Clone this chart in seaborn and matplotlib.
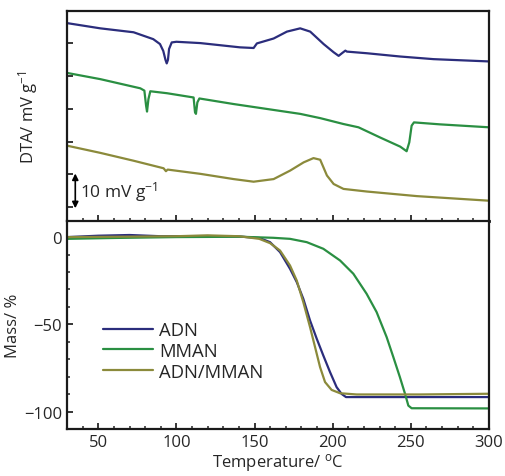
import numpy as np
import pandas as pd
import seaborn as sns
import matplotlib.pyplot as plt
from matplotlib.ticker import MultipleLocator, NullFormatter

# DTA curves (temperature in C, signal in mV/g with arbitrary offsets)
adn_dta_t = [30, 51.3, 72.6, 85.2, 89.5, 91.6, 93.0, 93.8, 94.6, 95.3, 97, 100, 115.3, 140.7, 149.4,
             151.5, 162.2, 170.7, 179.2, 185.6, 194.2, 200.6, 203.8, 205.9, 208.1, 209.1,
             221.9, 243.2, 264.5, 300]
adn_dta_v = [56.2, 54.6, 53.4, 51.3, 49.8, 47.7, 45.0, 43.9, 45.0, 48.3, 50.3, 50.5, 50.1, 48.8, 48.6,
             50.0, 51.5, 53.6, 54.6, 53.6, 49.8, 47.3, 46.2, 47.0, 47.8, 47.5,
             47.0, 46.0, 45.2, 44.5]

mman_dta_t = [30, 51.3, 76.9, 79.5, 80.6, 81.2, 82.1, 83.3, 94, 111, 111.9, 112.5, 113.4,
              114.7, 136.6, 157.9, 179.2, 192, 206.9, 216.5, 230.3, 243.2, 247.3, 249,
              250.5, 252, 268.6, 300]
mman_dta_v = [41.0, 39.1, 36.3, 35.6, 31.0, 29.2, 33.0, 35.4, 34.8, 33.5, 29.0, 28.5, 32.0,
              33.2, 31.5, 30.0, 28.5, 27.2, 25.4, 24.4, 21.3, 18.5, 17.1, 19.8,
              24.9, 25.9, 25.3, 24.4]

mix_dta_t = [30, 51.3, 72.6, 91.8, 93.3, 94.4, 115.3, 136.6, 149.4, 162.2, 172.8, 181.4,
             187.7, 192, 196.3, 200.6, 206.9, 221.9, 253.9, 300]
mix_dta_v = [18.8, 16.6, 14.2, 11.9, 11.0, 11.5, 10.2, 8.6, 7.8, 8.6, 11.2, 13.7,
             15.0, 14.5, 9.7, 7.1, 5.6, 4.8, 3.4, 2.0]

# TG curves (mass change in %)
adn_tg_t = [30, 50, 70, 90, 120, 140.7, 153, 159.9, 166.3, 172.7, 177, 181.2, 185.5, 189.8,
            194, 198.3, 202.5, 205.7, 208.5, 250, 300]
adn_tg_v = [0, 0.8, 1.2, 0.5, 0.6, 0.3, -0.5, -2.9, -8.6, -18.2, -25.8, -35.4, -47.8, -58.3,
            -67.9, -77.4, -86, -89.9, -91.7, -91.7, -91.7]

mman_tg_t = [30, 60, 100, 140.7, 162, 172.7, 183.4, 194, 204.7, 213.2, 221.7, 228.1, 234.5,
             238.8, 243, 246.3, 248.4, 250.5, 300]
mman_tg_v = [-1, -0.5, 0, 0.2, -0.4, -1, -2.9, -6.7, -13.4, -21, -32.5, -43, -57.3,
             -68.8, -80.3, -89.9, -96.6, -98.1, -98.2]

mix_tg_t = [30, 60, 100, 120, 140, 153, 160, 166.3, 172.7, 177, 181.2, 185.5, 188.7, 191.9,
            195.1, 199.3, 204.7, 215.3, 255.8, 300]
mix_tg_v = [0, 0.2, 0.5, 1.0, 0.5, -1, -3.5, -7.7, -16.3, -24.9, -37.3, -51.6, -63, -74.5,
            -83.1, -87.6, -89.5, -90.2, -90.2, -89.8]

labels = ["ADN", "MMAN", "ADN/MMAN"]
colors = ["#2b2d7c", "#2a8f42", "#8b8a3b"]

sns.set_theme(style="ticks")
plt.rcParams['font.family'] = ['Open Sans', 'DejaVu Sans']
plt.rcParams['mathtext.default'] = 'regular'
plt.rcParams['font.size'] = 12

fig = plt.figure(figsize=(5.06, 4.77), dpi=100)
ax1 = fig.add_axes([67/506, 1 - 221.7/477, 422/506, 209.4/477])
ax2 = fig.add_axes([67/506, 1 - 430/477, 422/506, 208.3/477])

dta = [(adn_dta_t, adn_dta_v), (mman_dta_t, mman_dta_v), (mix_dta_t, mix_dta_v)]
tg = [(adn_tg_t, adn_tg_v), (mman_tg_t, mman_tg_v), (mix_tg_t, mix_tg_v)]

for (t, v), lab, c in zip(dta, labels, colors):
    sns.lineplot(x=t, y=v, ax=ax1, color=c, lw=1.6, sort=False)
for (t, v), lab, c in zip(tg, labels, colors):
    sns.lineplot(x=t, y=v, ax=ax2, color=c, lw=1.6, sort=False, label=lab)

# top panel
ax1.set_xlim(30, 300)
ax1.set_ylim(-4.1, 59.8)
ax1.yaxis.set_major_locator(MultipleLocator(10))
ax1.yaxis.set_major_formatter(NullFormatter())
ax1.xaxis.set_major_locator(MultipleLocator(50))
ax1.xaxis.set_minor_locator(MultipleLocator(10))
ax1.xaxis.set_major_formatter(NullFormatter())
ax1.tick_params(direction="in", length=4.5, width=1.3)
ax1.tick_params(which="minor", direction="in", length=2.5, width=1.1)
ax1.set_ylabel("DTA/ mV g$^{-1}$", fontsize=12, labelpad=16)
ax1.annotate("", xy=(35.3, -0.3), xytext=(35.3, 10.3),
             arrowprops=dict(arrowstyle="<|-|>", color="black", lw=1.2,
                             mutation_scale=9, shrinkA=0, shrinkB=0))
ax1.text(38.5, 5, "10 mV g$^{-1}$", fontsize=12.5, va="center", ha="left")

# bottom panel
ax2.set_xlim(30, 300)
ax2.set_ylim(-110, 9.4)
ax2.xaxis.set_major_locator(MultipleLocator(50))
ax2.xaxis.set_minor_locator(MultipleLocator(10))
ax2.yaxis.set_major_locator(MultipleLocator(50))
ax2.yaxis.set_minor_locator(MultipleLocator(10))
ax2.tick_params(direction="in", length=4.5, width=1.3, labelsize=12)
ax2.tick_params(which="minor", direction="in", length=2.5, width=1.1)
ax2.set_xlabel("Temperature/ $^{o}$C", fontsize=12, labelpad=1)
ax2.set_ylabel("Mass/ %", fontsize=12, labelpad=2)
ax2.legend(loc="center left", bbox_to_anchor=(0.085, 0.375), frameon=False,
           borderpad=0, borderaxespad=0, handlelength=2.7, handletextpad=0.35,
           labelspacing=0.15, fontsize=13.3)

for ax in (ax1, ax2):
    for s in ax.spines.values():
        s.set_linewidth(1.6)
        s.set_color("#1a1a1a")
ax1.spines["bottom"].set_linewidth(2.0)

fig.savefig("out.png", dpi=100)
